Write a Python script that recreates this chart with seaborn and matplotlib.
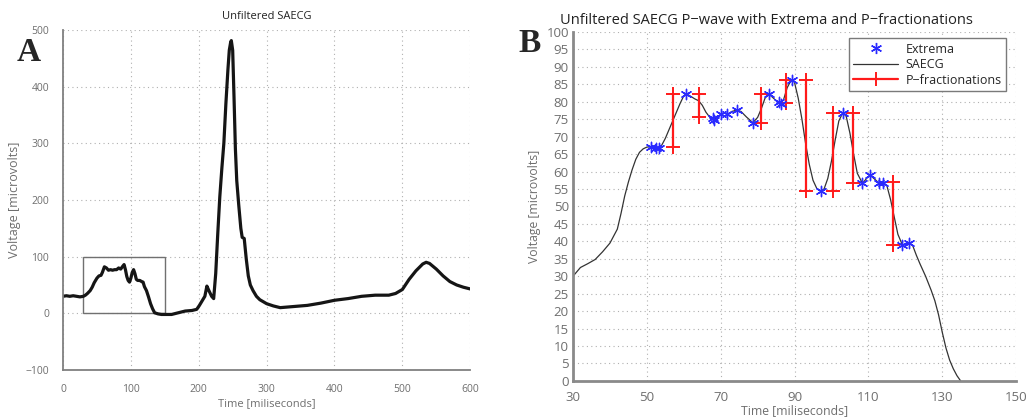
import matplotlib
matplotlib.use('Agg')
import numpy as np
import pandas as pd
import seaborn as sns
import matplotlib.pyplot as plt
from matplotlib.lines import Line2D
from matplotlib.patches import Rectangle
from matplotlib.ticker import MultipleLocator

# panel A: whole SAECG
a_time = [0, 5, 10, 15, 20, 25, 30, 33, 36, 40, 43, 46, 50, 53, 56, 58, 61, 64, 67, 70,
          73, 76, 79, 82, 85, 88, 90, 92, 94, 96, 98, 100, 102, 104, 106, 108, 110, 113, 116,
          118, 120, 123, 126, 129, 132, 135, 140, 145, 150, 160, 170, 180, 190, 197, 201,
          205, 209, 212, 215, 219, 222, 225, 228, 231, 234, 237, 240, 243, 245, 247, 248,
          250, 252, 254, 256, 259, 262, 264, 267, 270, 273, 276, 280, 285, 290, 300, 310,
          320, 340, 360, 380, 400, 420, 440, 460, 480, 490, 500, 510, 520, 530, 535, 540,
          550, 560, 570, 580, 590, 600]
a_volt = [30, 31, 30, 31, 30, 29, 30, 32, 35, 40, 46, 54, 62, 66, 67, 72, 82, 80, 76, 77,
          76, 77, 77, 80, 78, 83, 86, 77, 65, 58, 55, 62, 72, 77, 70, 60, 58, 58, 56,
          55, 47, 40, 29, 17, 8, 1, -1, -2, -2, -2, 1, 4, 5, 7, 14,
          22, 30, 48, 40, 30, 26, 70, 140, 205, 255, 300, 370, 430, 464, 478, 481,
          464, 380, 290, 234, 190, 150, 134, 132, 96, 66, 50, 40, 30, 24, 17, 13,
          10, 12, 14, 18, 23, 26, 30, 32, 32, 35, 42, 60, 75, 87, 90, 88,
          78, 66, 56, 50, 46, 43]

# panel B: P-wave
b_time = [30, 32, 34, 36, 38, 40, 42, 43, 44, 45, 46, 47, 48, 49, 50, 51.3, 53, 54, 55,
          56, 57, 58, 59, 60, 60.6, 61.5, 63, 64, 65, 66, 67, 68, 69, 70, 71, 72, 73,
          74.3, 75.5, 77, 78.7, 80, 81, 82, 83, 84, 85, 86, 87, 88, 89, 89.4, 90, 91,
          92, 93, 94, 95, 96, 97.2, 98, 99, 100, 101, 102, 103.1, 104, 105, 106, 107,
          108.4, 109.5, 110.4, 111.5, 113, 114, 115, 116, 117, 118, 119.2, 120, 121,
          122, 123, 124, 125.5, 127, 128, 129, 130, 131, 132, 133, 134, 135]
b_volt = [30, 32.5, 33.6, 34.8, 37, 39.5, 43.5, 48, 53, 57, 60.5, 63.5, 65.5, 66.5, 67, 67.1, 66.8, 67.5, 69.5,
          72, 74.5, 77, 79.5, 81.7, 82.3, 81.8, 80.8, 80.3, 79, 77, 75.6, 75, 75.4, 76.4, 76.8, 76.5, 77.2,
          77.6, 77.2, 75.6, 74.0, 75.5, 78, 81, 82.2, 81.3, 80.3, 79.5, 80.5, 84, 86, 86.3, 85.5, 81,
          75, 68, 62, 57.5, 55.2, 54.4, 55, 58, 63, 69, 74.5, 76.9, 75.8, 71, 65, 59.5,
          56.6, 58, 59, 58, 56.6, 56.7, 56, 52, 47, 42, 39, 39.2, 39.6,
          38.8, 36, 33.5, 30, 26, 23, 19, 14, 9.5, 6, 3.5, 1.5, 0]

ext_time = [51.2, 52.6, 53.3, 60.6, 67.8, 68.2, 70.1, 71.7, 74.3, 78.7, 83.0, 85.9, 86.4,
            89.4, 97.2, 103.1, 108.4, 110.4, 113.0, 114.0, 119.2, 121.0]
ext_volt = [67.1, 66.8, 66.8, 82.3, 75.3, 74.9, 76.5, 76.6, 77.6, 74.0, 82.1, 79.8, 79.3,
            86.3, 54.4, 76.9, 56.6, 59.0, 56.6, 56.7, 39.0, 39.6]

frac_time = [57.2, 64.2, 81.0, 87.7, 93.2, 100.4, 105.7, 116.7]
frac_low = [67.1, 75.6, 74.0, 79.5, 54.4, 54.4, 56.6, 39.0]
frac_high = [82.3, 82.3, 82.3, 86.3, 86.3, 76.9, 76.9, 57.1]

sns.set_style('white')
plt.rcParams['font.family'] = ['Open Sans', 'DejaVu Sans']

grey_txt = '#6e6e6e'
grid_kw = dict(color='#b0b0b0', linestyle=(0, (1, 3)), linewidth=0.8)

fig = plt.figure(figsize=(10.31, 4.2), dpi=100)
ax1 = fig.add_axes([0.0611, 0.119, 0.395, 0.810])
ax2 = fig.add_axes([0.5558, 0.093, 0.4297, 0.831])

# ---- A ----
sns.lineplot(x=a_time, y=a_volt, ax=ax1, color='#151515', linewidth=2.3, estimator=None)
ax1.add_patch(Rectangle((30, 0), 120, 100, fill=False, edgecolor='#707070', linewidth=1))
ax1.set_xlim(0, 600)
ax1.set_ylim(-100, 500)
ax1.xaxis.set_major_locator(MultipleLocator(100))
ax1.xaxis.set_minor_locator(MultipleLocator(20))
ax1.yaxis.set_major_locator(MultipleLocator(100))
ax1.yaxis.set_minor_locator(MultipleLocator(20))
ax1.grid(True, which='major', **grid_kw)
for s in ['top', 'right']:
    ax1.spines[s].set_visible(False)
for s in ['left', 'bottom']:
    ax1.spines[s].set_color('#808080')
    ax1.spines[s].set_linewidth(1.3)
ax1.tick_params(which='major', direction='out', length=5, width=1, color='#808080',
                labelsize=7.5, labelcolor=grey_txt, pad=5)
ax1.tick_params(which='minor', direction='out', length=3.5, width=1, color='#808080')
ax1.set_xlabel('Time [miliseconds]', fontsize=8, color=grey_txt, labelpad=2)
ax1.set_ylabel('Voltage [microvolts]', fontsize=9, color=grey_txt, labelpad=3)
ax1.set_title('Unfiltered SAECG', fontsize=8, color='#222222', pad=8)
fig.text(0.016, 0.855, 'A', fontsize=24, fontweight='bold', family='Liberation Serif')

# ---- B ----
sns.lineplot(x=b_time, y=b_volt, ax=ax2, color='#333333', linewidth=0.9, estimator=None)
for t, lo, hi in zip(frac_time, frac_low, frac_high):
    ax2.plot([t, t], [lo, hi], color='#ff1a1a', linewidth=1.6, marker='+',
             markersize=10, markeredgewidth=1.4)
sns.scatterplot(x=ext_time, y=ext_volt, ax=ax2, marker=(6, 2, 0), s=55,
                color='#2a2aff', linewidth=1.0, zorder=5)
ax2.set_xlim(30, 150)
ax2.set_ylim(0, 100)
ax2.set_xticks(np.arange(30, 151, 20))
ax2.set_yticks(np.arange(0, 101, 5))
ax2.grid(True, **grid_kw)
for s in ['top', 'right']:
    ax2.spines[s].set_visible(False)
for s in ['left', 'bottom']:
    ax2.spines[s].set_color('#8a8a8a')
    ax2.spines[s].set_linewidth(2)
ax2.tick_params(length=0, labelsize=9.5, labelcolor=grey_txt)
ax2.tick_params(axis='x', pad=7)
ax2.tick_params(axis='y', pad=3)
ax2.set_xlabel('Time [miliseconds]', fontsize=8.8, color=grey_txt, labelpad=0)
ax2.set_ylabel('Voltage [microvolts]', fontsize=8.8, color=grey_txt, labelpad=4)
ax2.set_title('Unfiltered SAECG P\u2212wave with Extrema and P\u2212fractionations',
              fontsize=10.5, color='#222222', x=0.436, pad=6)
fig.text(0.503, 0.875, 'B', fontsize=24, fontweight='bold', family='Liberation Serif')

handles = [
    Line2D([], [], linestyle='none', marker=(6, 2, 0), color='#2a2aff', markersize=8),
    Line2D([], [], color='#333333', linewidth=0.9),
    Line2D([], [], color='#ff1a1a', linewidth=1.6, marker='+', markersize=10, markeredgewidth=1.4),
]
leg = ax2.legend(handles, ['Extrema', 'SAECG', 'P\u2212fractionations'], loc='upper right',
                 bbox_to_anchor=(0.992, 1.0), fontsize=9, handlelength=3.6, fancybox=False,
                 framealpha=1, edgecolor='#7a7a7a', borderpad=0.35, labelspacing=0.2,
                 handletextpad=0.6)
leg.get_frame().set_linewidth(1)

fig.savefig('out.png', dpi=100)
